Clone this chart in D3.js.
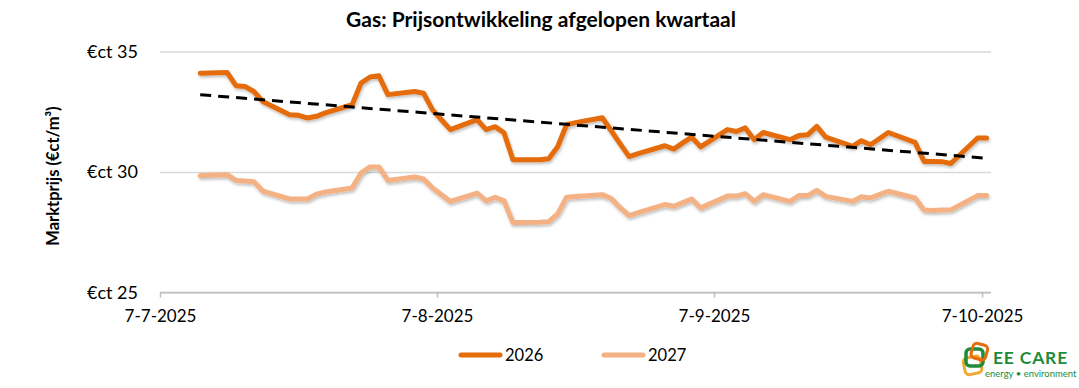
<!DOCTYPE html>
<html><head><meta charset="utf-8">
<script src="https://cdn.jsdelivr.net/npm/d3@7/dist/d3.min.js"></script>
<style>
html,body{margin:0;padding:0;background:#fff;}
svg{display:block;font-family:Lato,"Noto Sans",sans-serif;}
</style></head>
<body>
<svg id="chart" width="1079" height="388"></svg>
<script>
const title = "Gas: Prijsontwikkeling afgelopen kwartaal";
const yTitle = "Marktprijs (€ct/m³)";
const dates = [
 "2025-07-11","2025-07-14","2025-07-15","2025-07-16","2025-07-17","2025-07-18","2025-07-21","2025-07-22","2025-07-23","2025-07-24","2025-07-25","2025-07-28","2025-07-29","2025-07-30","2025-07-31",
 "2025-08-01","2025-08-04","2025-08-05","2025-08-06","2025-08-07","2025-08-08","2025-08-11","2025-08-12","2025-08-13","2025-08-14","2025-08-15","2025-08-18","2025-08-19","2025-08-20","2025-08-21","2025-08-22","2025-08-25","2025-08-26","2025-08-27","2025-08-28","2025-08-29",
 "2025-09-01","2025-09-02","2025-09-03","2025-09-04","2025-09-05","2025-09-08","2025-09-09","2025-09-10","2025-09-11","2025-09-12","2025-09-15","2025-09-16","2025-09-17","2025-09-18","2025-09-19","2025-09-22","2025-09-23","2025-09-24","2025-09-25","2025-09-26","2025-09-29","2025-09-30",
 "2025-10-01","2025-10-02","2025-10-03","2025-10-06","2025-10-07"
];
const values2026 = [
 34.10,34.13,33.58,33.55,33.34,32.93,32.38,32.35,32.24,32.31,32.45,32.79,33.69,33.94,33.99,
 33.21,33.34,33.27,32.58,32.17,31.76,32.17,31.76,31.88,31.63,30.51,30.51,30.55,31.05,31.96,32.05,32.25,31.71,31.17,30.64,30.76,
 31.09,30.95,31.21,31.45,31.04,31.76,31.68,31.83,31.34,31.64,31.34,31.51,31.55,31.89,31.45,31.06,31.30,31.13,31.38,31.64,31.23,30.44,
 30.44,30.43,30.35,31.41,31.41
];
const values2027 = [
 29.85,29.89,29.65,29.63,29.60,29.21,28.88,28.88,28.88,29.08,29.17,29.34,29.96,30.21,30.21,
 29.65,29.79,29.71,29.34,29.06,28.78,29.12,28.80,28.95,28.80,27.90,27.92,27.94,28.26,28.95,28.98,29.06,28.90,28.52,28.19,28.31,
 28.65,28.58,28.73,28.88,28.51,29.00,29.00,29.10,28.78,29.06,28.78,29.02,29.02,29.24,28.99,28.78,28.97,28.92,29.06,29.20,28.92,28.42,
 28.40,28.42,28.43,29.02,29.02
];
const seriesNames = ["2026","2027"];
const seriesColors = ["#E46C0A","#F4B183"];
const xTickDates = ["2025-07-07","2025-08-07","2025-09-07","2025-10-07"];
const xTickLabels = ["7-7-2025","7-8-2025","7-9-2025","7-10-2025"];
const yTicks = [25,30,35];
const xDomain = ["2025-07-07","2025-10-08"];

const svg = d3.select("#chart");
const parse = d3.timeParse("%Y-%m-%d");
const mid = s => d3.timeHour.offset(parse(s), 12);

const x = d3.scaleTime().domain(xDomain.map(parse)).range([160, 991]);
const y = d3.scaleLinear().domain([25,35]).range([292.5, 51.5]);

// shadow filter
const defs = svg.append("defs");
const f = defs.append("filter").attr("id","sh").attr("x","-5%").attr("y","-20%").attr("width","110%").attr("height","140%");
f.append("feGaussianBlur").attr("in","SourceAlpha").attr("stdDeviation",1.5).attr("result","b");
f.append("feOffset").attr("in","b").attr("dx",1).attr("dy",2).attr("result","o");
f.append("feComponentTransfer").attr("in","o").attr("result","o2").append("feFuncA").attr("type","linear").attr("slope",0.25);
const fm = f.append("feMerge"); fm.append("feMergeNode").attr("in","o2"); fm.append("feMergeNode").attr("in","SourceGraphic");

// title
svg.append("text").attr("x",541).attr("y",27).attr("text-anchor","middle")
  .attr("font-size",21).attr("font-weight","bold").attr("fill","#000").text(title);

// gridlines
const yAxis = d3.axisLeft(y).tickValues(yTicks).tickSize(-(991-160)).tickFormat(d => "€ct " + d);
const gy = svg.append("g").attr("transform","translate(160,0)").call(yAxis);
gy.select(".domain").remove();
gy.selectAll(".tick line").attr("stroke","#d9d9d9").attr("stroke-width",1.3);
gy.selectAll(".tick text").attr("x",-22).attr("font-size",18).attr("fill","#000").attr("font-family","Lato");

// x axis
const xAxis = d3.axisBottom(x).tickValues(xTickDates.map(parse)).tickSize(5).tickFormat((d,i) => xTickLabels[i]);
const gx = svg.append("g").attr("transform","translate(0,292.5)").call(xAxis);
gx.select(".domain").attr("stroke","#bfbfbf").attr("stroke-width",1.5).attr("d","M160,0H991");
gx.selectAll(".tick line").attr("stroke","#bfbfbf").attr("stroke-width",1.5);
gx.selectAll(".tick text").attr("y",17).attr("dy","0.71em").attr("font-size",17).attr("fill","#000").attr("font-family","Lato");

// y title
svg.append("text").attr("transform","translate(59,176) rotate(-90)").attr("text-anchor","middle")
  .attr("font-size",16.5).attr("font-weight","bold").attr("fill","#000").text(yTitle);

// lines
const line = d3.line().x(d => x(d.date)).y(d => y(d.v)).curve(d3.curveLinear);
[values2027, values2026].forEach((vals, k) => {
  const idx = k === 0 ? 1 : 0;
  const data = dates.map((s,i) => ({date: mid(s), v: vals[i]}));
  svg.append("path").datum(data).attr("d", line).attr("fill","none")
    .attr("stroke", seriesColors[idx]).attr("stroke-width",5).attr("stroke-linejoin","round").attr("stroke-linecap","round")
    .attr("filter","url(#sh)");
});

// linear trendline for 2026
const xs = dates.map(s => +mid(s));
const n = xs.length;
const mx = d3.mean(xs), my = d3.mean(values2026);
let sxy = 0, sxx = 0;
for (let i=0;i<n;i++){ sxy += (xs[i]-mx)*(values2026[i]-my); sxx += (xs[i]-mx)**2; }
const slope = sxy/sxx, icpt = my - slope*mx;
const trend = [xs[0], xs[n-1]].map(t => ({date:new Date(t), v: icpt + slope*t}));
svg.append("path").datum(trend).attr("d", line).attr("fill","none")
  .attr("stroke","#000").attr("stroke-width",3).attr("stroke-dasharray","11,7");

// legend
const legend = svg.append("g");
const legX = [461, 604];
seriesNames.forEach((nm,i) => {
  legend.append("line").attr("x1",legX[i]).attr("x2",legX[i]+39).attr("y1",355).attr("y2",355)
    .attr("stroke",seriesColors[i]).attr("stroke-width",5).attr("stroke-linecap","round");
  legend.append("text").attr("x",legX[i]+44).attr("y",355).attr("dy","0.35em")
    .attr("font-size",16.5).attr("fill","#000").text(nm);
});

// logo
const logo = svg.append("g");
logo.append("rect").attr("x",964).attr("y",357).attr("width",17).attr("height",17).attr("rx",4)
  .attr("fill","none").attr("stroke","#F0A830").attr("stroke-width",3).attr("transform","rotate(-12 972 365)");
logo.append("rect").attr("x",966).attr("y",349).attr("width",17).attr("height",17).attr("rx",4)
  .attr("fill","none").attr("stroke","#1E8C3A").attr("stroke-width",3.5);
logo.append("rect").attr("x",972).attr("y",344).attr("width",15).attr("height",15).attr("rx",4)
  .attr("fill","none").attr("stroke","#E46C0A").attr("stroke-width",3).attr("transform","rotate(15 979 351)");
logo.append("text").attr("x",993).attr("y",364).attr("font-size",17.5).attr("font-weight","bold")
  .attr("letter-spacing",0.8).attr("fill","#1E8C3A").attr("font-family","Lato").text("EE CARE");
logo.append("text").attr("x",985).attr("y",377).attr("font-size",9.5).attr("fill","#1E8C3A")
  .attr("font-family","Lato").text("energy • environment");
</script>
</body></html>
